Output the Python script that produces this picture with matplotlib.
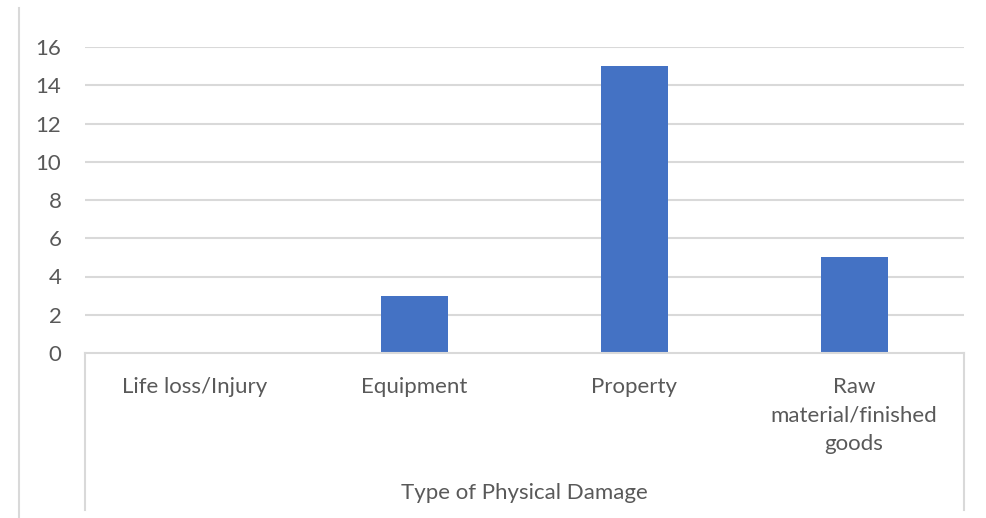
import matplotlib.pyplot as plt
from matplotlib.lines import Line2D

categories = ['Life loss/Injury', 'Equipment', 'Property', 'Raw\nmaterial/finished\ngoods']
counts = [0, 3, 15, 5]
y_ticks = [0, 2, 4, 6, 8, 10, 12, 14, 16]

W, H = 986, 518
text_color = '#595959'
line_color = '#D9D9D9'
bar_color = '#4472C4'
fs = 16

plt.rcParams['font.family'] = ['Lato', 'DejaVu Sans']

fig = plt.figure(figsize=(W / 100, H / 100), dpi=100)
left, right, bottom, top = 85, 964, 353, 47
ax = fig.add_axes([left / W, 1 - bottom / H, (right - left) / W, (bottom - top) / H])

x = list(range(len(categories)))
ax.bar(x, counts, width=0.305, color=bar_color, zorder=3)

ax.set_xlim(-0.5, len(categories) - 0.5)
ax.set_ylim(0, 16)
ax.set_yticks(y_ticks)
ax.set_yticklabels([str(v) for v in y_ticks], color=text_color, fontsize=fs)
ax.set_xticks(x)
ax.set_xticklabels(categories, color=text_color, fontsize=fs, linespacing=1.53)
ax.tick_params(axis='y', length=0, pad=17)
ax.tick_params(axis='x', length=0, pad=17.5)

for v in y_ticks[1:]:
    ax.axhline(v, color=line_color, linewidth=1.5, zorder=1)

for s in ['top', 'right', 'left']:
    ax.spines[s].set_visible(False)
ax.spines['bottom'].set_color(line_color)
ax.spines['bottom'].set_linewidth(1.5)
ax.spines['bottom'].set_zorder(4)

# category box sides and outer chart border
def vline(px, y0, y1):
    fig.add_artist(Line2D([px / W, px / W], [1 - y0 / H, 1 - y1 / H],
                          color=line_color, linewidth=1.5))

vline(left, bottom, 510)
vline(right, bottom, 510)
vline(19, 8, 518)

fig.text((left + right) / 2 / W, 1 - 493 / H, 'Type of Physical Damage',
         ha='center', va='center', color=text_color, fontsize=fs)

fig.savefig('out.png', dpi=100)
